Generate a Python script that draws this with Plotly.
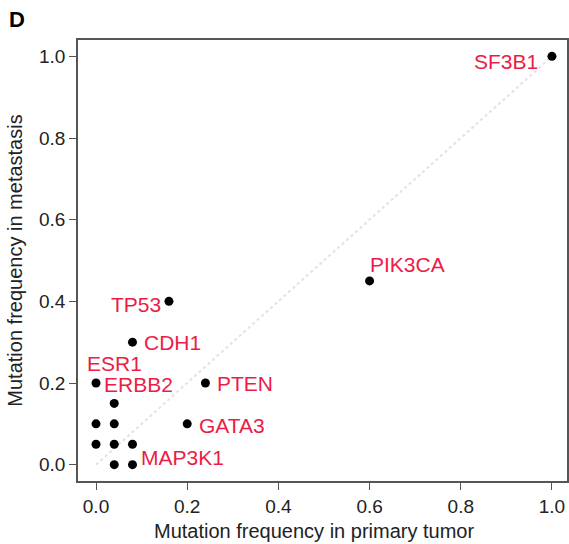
import plotly.graph_objects as go

# Data: mutation frequency in primary tumor (x) vs metastasis (y)
genes = ["SF3B1", "PIK3CA", "TP53", "CDH1", "ESR1", "PTEN", "ERBB2", "GATA3", "MAP3K1",
         "", "", "", "", "", ""]
primary = [1.00, 0.60, 0.16, 0.08, 0.00, 0.24, 0.04, 0.20, 0.08,
           0.00, 0.04, 0.00, 0.04, 0.04, 0.08]
metastasis = [1.00, 0.45, 0.40, 0.30, 0.20, 0.20, 0.15, 0.10, 0.05,
              0.10, 0.10, 0.05, 0.05, 0.00, 0.00]
tick_vals = [0.0, 0.2, 0.4, 0.6, 0.8, 1.0]
tick_text = ["0.0", "0.2", "0.4", "0.6", "0.8", "1.0"]

# label placement relative to point: (xanchor, xshift px, yshift px)
label_style = {
    "SF3B1": ("right", -12, -5),
    "PIK3CA": ("left", -2, 16),
    "TP53": ("right", -6, -3),
    "CDH1": ("left", 10, 0),
    "ESR1": ("left", -11, 20),
    "PTEN": ("left", 10, 0),
    "ERBB2": ("left", -12, 19),
    "GATA3": ("left", 10, -2),
    "MAP3K1": ("left", 7, -13),
}

red = "#ec1c45"
font_family = "Liberation Sans, Arial, sans-serif"

fig = go.Figure()
# faint identity line
fig.add_trace(go.Scatter(x=[0, 1], y=[0, 1], mode="lines",
                         line=dict(color="rgba(195,200,200,0.5)", width=2, dash="dot"),
                         hoverinfo="skip", showlegend=False))
fig.add_trace(go.Scatter(x=primary, y=metastasis, mode="markers",
                         marker=dict(color="black", size=9),
                         showlegend=False))

annotations = []
for g, x, y in zip(genes, primary, metastasis):
    if g in label_style:
        xa, xs, ys = label_style[g]
        annotations.append(dict(x=x, y=y, xref="x", yref="y", text=g, showarrow=False,
                                xanchor=xa, yanchor="middle", xshift=xs, yshift=ys,
                                font=dict(color=red, size=21, family=font_family)))
annotations.append(dict(x=-0.1446, y=1.047, xref="paper", yref="paper", text="<b>D</b>",
                        showarrow=False, xanchor="left", yanchor="middle",
                        font=dict(color="black", size=22, family=font_family)))
# x-axis title (slightly left of plot centre, as in the reference)
annotations.append(dict(x=0.4826, y=-0.1134, xref="paper", yref="paper",
                        text="Mutation frequency in primary tumor", showarrow=False,
                        xanchor="center", yanchor="middle",
                        font=dict(size=20, color="#222222", family=font_family)))

axis_common = dict(showline=True, mirror=True, linecolor="#555555", linewidth=1.5,
                   ticks="outside", ticklen=7, tickwidth=1.3, tickcolor="#555555",
                   showgrid=False, zeroline=False, tickvals=tick_vals, ticktext=tick_text,
                   tickfont=dict(size=19, color="#222222", family=font_family))

fig.update_layout(
    width=569, height=544,
    margin=dict(l=78, r=2, t=40, b=63),
    paper_bgcolor="white", plot_bgcolor="white",
    xaxis=dict(range=[-0.0395, 1.033], automargin=False, **axis_common),
    yaxis=dict(range=[-0.04, 1.04], title=dict(text="Mutation frequency in metastasis",
               font=dict(size=20, color="#222222", family=font_family), standoff=11),
               automargin=False, **axis_common),
    annotations=annotations,
)

fig.write_html("out.html", config={"displayModeBar": False},
               post_script="document.body.style.margin='0';document.body.style.overflow='hidden';")
